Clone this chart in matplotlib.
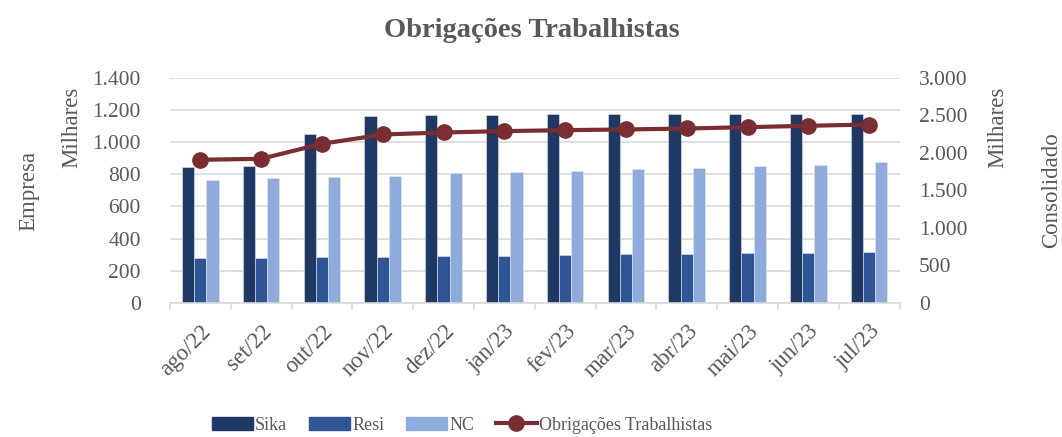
import matplotlib
matplotlib.use("Agg")
import matplotlib.pyplot as plt
import numpy as np
from matplotlib.ticker import FuncFormatter, MultipleLocator
from matplotlib.lines import Line2D
from matplotlib.patches import Patch

# data (R$ mil)
meses = ["ago/22", "set/22", "out/22", "nov/22", "dez/22", "jan/23",
         "fev/23", "mar/23", "abr/23", "mai/23", "jun/23", "jul/23"]
sika = [845, 852, 1052, 1160, 1168, 1170, 1172, 1175, 1176, 1176, 1176, 1176]
resi = [278, 282, 286, 288, 292, 293, 295, 301, 303, 308, 311, 315]
nc = [766, 776, 782, 790, 807, 813, 821, 830, 838, 850, 859, 877]
obrig = [1907, 1920, 2120, 2244, 2271, 2289, 2302, 2311, 2324, 2342, 2360, 2377]

c_sika = "#1F3864"
c_resi = "#2F5597"
c_nc = "#8FAADC"
c_line = "#7B2E31"
grey = "#595959"

plt.rcParams['font.family'] = ['Liberation Serif', 'DejaVu Serif']

fig = plt.figure(figsize=(10.62, 4.37), dpi=100)
ax = fig.add_axes([0.160, 0.307, 0.687, 0.515])
ax2 = ax.twinx()

x = np.arange(len(meses))
w = 0.2
ax.bar(x - w, sika, w, color=c_sika, edgecolor="#dfe6f2", linewidth=0.4, zorder=2)
ax.bar(x, resi, w, color=c_resi, edgecolor="#dfe6f2", linewidth=0.4, zorder=2)
ax.bar(x + w, nc, w, color=c_nc, edgecolor="#dfe6f2", linewidth=0.4, zorder=2)

ax2.plot(x, obrig, color=c_line, lw=3, marker="o", markersize=11, zorder=3)

fmt = FuncFormatter(lambda v, p: f"{int(v):,}".replace(",", "."))

ax.set_ylim(0, 1400)
ax.yaxis.set_major_locator(MultipleLocator(200))
ax.yaxis.set_major_formatter(fmt)
ax2.set_ylim(0, 3000)
ax2.yaxis.set_major_locator(MultipleLocator(500))
ax2.yaxis.set_major_formatter(fmt)
ax.set_xlim(-0.5, len(meses) - 0.5)

ax.grid(axis="y", color="#d9d9d9", lw=1.2, zorder=0)
ax.set_axisbelow(True)

for a in (ax, ax2):
    for s in a.spines.values():
        s.set_visible(False)
    a.tick_params(axis="y", length=0, labelsize=15.5, labelcolor=grey)
ax.spines["bottom"].set_visible(True)
ax.spines["bottom"].set_color("#d9d9d9")
ax.spines["bottom"].set_linewidth(1.2)

ax.set_xticks(x)
ax.set_xticklabels(meses, rotation=45, ha="right", rotation_mode="anchor",
                   fontsize=16.5, color=grey)
ax.set_xticks(np.arange(-0.5, len(meses)), minor=True)
ax.tick_params(axis="x", which="major", length=0, pad=13)
ax.tick_params(axis="x", which="minor", length=5, color="#d9d9d9", width=1.2)

ax.tick_params(axis="y", pad=21)
ax2.tick_params(axis="y", pad=14)

fig.text(0.027, 0.563, "Empresa", rotation=90, ha="center", va="center", fontsize=16.5, color=grey)
fig.text(0.068, 0.708, "Milhares", rotation=90, ha="center", va="center", fontsize=16.5, color=grey)
fig.text(0.940, 0.709, "Milhares", rotation=90, ha="center", va="center", fontsize=16.5, color=grey)
fig.text(0.990, 0.565, "Consolidado", rotation=90, ha="center", va="center", fontsize=16.5, color=grey)

fig.text(0.501, 0.93, "Obrigações Trabalhistas", ha="center", va="center",
         fontsize=20.5, fontweight="bold", color=grey)

handles = [Patch(color=c_sika, label="Sika"),
           Patch(color=c_resi, label="Resi"),
           Patch(color=c_nc, label="NC"),
           Line2D([0], [0], color=c_line, lw=3, marker="o", markersize=11,
                  label="Obrigações Trabalhistas")]
leg = fig.legend(handles=handles, loc="center", bbox_to_anchor=(0.435, 0.027),
                 ncol=4, frameon=False, fontsize=13, handlelength=2.3,
                 handleheight=0.8, handletextpad=0.1, columnspacing=1.2)
for t in leg.get_texts():
    t.set_color(grey)

fig.savefig("out.png", dpi=100)
